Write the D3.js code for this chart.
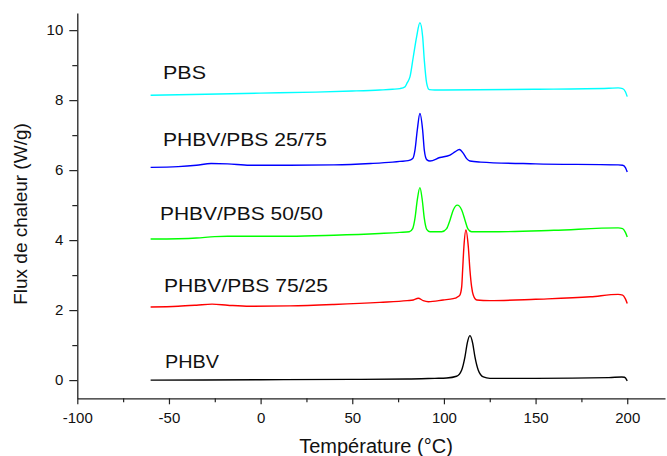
<!DOCTYPE html>
<html>
<head>
<meta charset="utf-8">
<script src="https://cdn.jsdelivr.net/npm/d3@7"></script>
<style>
  html, body { margin: 0; padding: 0; background: #fff; }
  svg { display: block; font-family: "Liberation Sans", Arial, sans-serif; }
</style>
</head>
<body>
<svg id="chart" width="667" height="456"></svg>
<script>
// ---- Data (temperature °C, heat flow W/g) ----
const xTicks = [-100, -50, 0, 50, 100, 150, 200];
const xMinorTicks = [-75, -25, 25, 75, 125, 175];
const yTicks = [0, 2, 4, 6, 8, 10];
const yMinorTicks = [1, 3, 5, 7, 9];

const seriesNames = ["PBS", "PHBV/PBS 25/75", "PHBV/PBS 50/50", "PHBV/PBS 75/25", "PHBV"];
const seriesColors = ["#00ffff", "#0000ff", "#00ff00", "#ff0000", "#000000"];

const pbs = [[-60, 8.14], [-30, 8.17], [0, 8.2], [30, 8.23], [50, 8.26], [65, 8.29], [72, 8.31], [76, 8.33],
  [78.75, 8.38], [80, 8.5], [81.5, 8.67], [83.3, 9.24], [85.1, 9.81], [86.9, 10.21], [88.4, 9.81], [89.3, 9.14],
  [90.6, 8.48], [92, 8.3], [95, 8.29], [100, 8.29], [150, 8.31], [190, 8.34], [195, 8.35], [197.5, 8.33],
  [199, 8.24], [200, 8.1]];

const phbvPbs2575 = [[-60, 6.08], [-45, 6.1], [-35, 6.14], [-27, 6.19], [-18, 6.18], [-6, 6.14], [16, 6.14],
  [40, 6.15], [60, 6.19], [72, 6.23], [76, 6.25], [80.5, 6.27], [83, 6.33], [84.2, 6.57], [85.45, 7.14],
  [86.9, 7.62], [88.4, 7.14], [89.3, 6.57], [90.6, 6.3], [92.4, 6.26], [97.8, 6.36], [103.3, 6.43],
  [106, 6.52], [108.4, 6.59], [110.6, 6.48], [112.4, 6.33], [114.2, 6.26], [120, 6.23], [150, 6.18],
  [195, 6.15], [197.5, 6.14], [199, 6.07], [200, 5.95]];

const phbvPbs5050 = [[-60, 4.03], [-45, 4.04], [-35, 4.06], [-25, 4.1], [-18, 4.11], [16, 4.11], [40, 4.14],
  [65, 4.19], [76, 4.22], [81.1, 4.24], [82.95, 4.33], [84.2, 4.62], [85.45, 5.14], [86.9, 5.5], [88.2, 5.14],
  [89.3, 4.62], [90.6, 4.31], [92.4, 4.24], [98.8, 4.24], [101.5, 4.33], [103.3, 4.57], [105.1, 4.86],
  [107.3, 5.0], [109.7, 4.86], [111.5, 4.57], [113, 4.33], [115.1, 4.24], [130, 4.24], [160, 4.28],
  [195, 4.35], [197.5, 4.33], [199, 4.22], [200, 4.09]];

const phbvPbs7525 = [[-60, 2.09], [-45, 2.11], [-35, 2.14], [-26.5, 2.17], [-18, 2.14], [-6, 2.11], [16, 2.12],
  [40, 2.16], [65, 2.22], [80, 2.27], [83.3, 2.29], [86, 2.34], [88.7, 2.27], [91.5, 2.24], [99.6, 2.29],
  [105.1, 2.33], [106.9, 2.36], [108.7, 2.43], [109.7, 2.67], [110.2, 3.14], [110.9, 3.81], [112, 4.29],
  [113.3, 3.81], [114.2, 3.14], [115.1, 2.67], [116, 2.43], [117.9, 2.29], [125, 2.27], [150, 2.31],
  [180, 2.38], [195, 2.45], [197.5, 2.43], [199, 2.32], [200, 2.19]];

const phbv = [[-60, 0.0], [0, 0.01], [50, 0.02], [80, 0.03], [95, 0.05], [101.5, 0.06], [106.9, 0.11],
  [109.7, 0.29], [111.5, 0.67], [112.7, 1.05], [114.2, 1.27], [115.7, 1.05], [116.9, 0.67], [118.7, 0.29],
  [121.5, 0.09], [125.1, 0.05], [150, 0.05], [190, 0.07], [197, 0.09], [198.5, 0.08], [200, -0.02]];

const seriesData = [pbs, phbvPbs2575, phbvPbs5050, phbvPbs7525, phbv];

// ---- Layout ----
const svg = d3.select("#chart");
const x = d3.scaleLinear().domain([-100, 220.6]).range([77.3, 665]);
const y = d3.scaleLinear().domain([-0.52, 10.49]).range([398.3, 13]);

const line = d3.line()
  .x(d => x(d[0]))
  .y(d => y(d[1]))
  .curve(d3.curveMonotoneX);

// curves
svg.append("g").selectAll("path")
  .data(seriesData)
  .join("path")
  .attr("d", d => line(d))
  .attr("fill", "none")
  .attr("stroke", (d, i) => seriesColors[i])
  .attr("stroke-width", 1.4)
  .attr("stroke-linejoin", "round");

// axes
const axisColor = "#222";
const fmt = d => String(d);
svg.append("g").attr("transform", "translate(0,398.3)")
  .call(d3.axisBottom(x).tickValues(xTicks).tickSize(6).tickSizeOuter(0).tickPadding(8).tickFormat(fmt));
svg.append("g").attr("transform", "translate(0,398.3)")
  .call(d3.axisBottom(x).tickValues(xMinorTicks).tickSize(4).tickSizeOuter(0).tickFormat(""))
  .call(g => g.select(".domain").remove());

svg.append("g").attr("transform", "translate(77.3,0)")
  .call(d3.axisLeft(y).tickValues(yTicks).tickSize(8).tickSizeOuter(0).tickPadding(6).tickFormat(fmt));
svg.append("g").attr("transform", "translate(77.3,0)")
  .call(d3.axisLeft(y).tickValues(yMinorTicks).tickSize(5).tickSizeOuter(0).tickFormat(""))
  .call(g => g.select(".domain").remove());

svg.selectAll(".domain").attr("stroke", axisColor).attr("stroke-width", 1.3);
svg.selectAll(".tick line").attr("stroke", axisColor).attr("stroke-width", 1.2);
svg.selectAll(".tick text")
  .attr("fill", "#111")
  .style("font-family", "'Liberation Sans', Arial, sans-serif")
  .style("font-size", "15px");

// axis titles
svg.append("text")
  .attr("x", 376).attr("y", 453)
  .attr("text-anchor", "middle")
  .attr("fill", "#111")
  .style("font-size", "20px")
  .text("Température (°C)");

svg.append("text")
  .attr("transform", "translate(27,214) rotate(-90)")
  .attr("text-anchor", "middle")
  .attr("fill", "#111")
  .style("font-size", "19px")
  .text("Flux de chaleur (W/g)");

// curve labels
const labelPos = [[163, 79, 43], [163, 146, 164], [160, 220, 163], [164, 292, 164], [165, 368, 54]];
svg.append("g").selectAll("text")
  .data(seriesNames)
  .join("text")
  .attr("x", (d, i) => labelPos[i][0])
  .attr("y", (d, i) => labelPos[i][1])
  .attr("textLength", (d, i) => labelPos[i][2])
  .attr("lengthAdjust", "spacingAndGlyphs")
  .attr("fill", "#111")
  .style("font-size", "18px")
  .text(d => d);
</script>
</body>
</html>
